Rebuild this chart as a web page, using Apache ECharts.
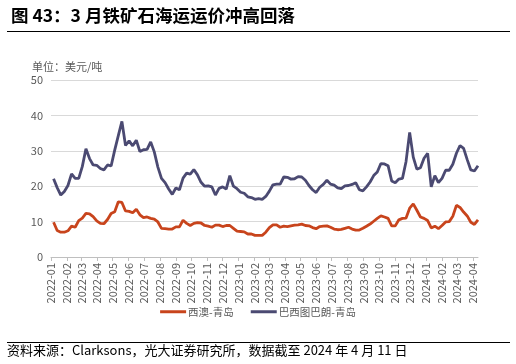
<!DOCTYPE html>
<html>
<head>
<meta charset="utf-8">
<script src="https://cdn.jsdelivr.net/npm/echarts@6/dist/echarts.min.js"></script>
<style>
html,body{margin:0;padding:0;background:#fff;}
#c{width:516px;height:364px;}
</style>
</head>
<body>
<div id="c"></div>
<script>
// weekly observations (Thursdays) from 2022-01-06 to 2024-04-11
const startDate = '2022-01-06';
const stepDays = 7;
const westAus = [
  9.8, 7.5, 7.0, 7.0, 7.4, 8.7, 8.4, 10.3, 11.0, 12.3,
  12.2, 11.4, 10.2, 9.5, 9.4, 10.6, 12.3, 12.8, 15.6, 15.4,
  13.0, 12.9, 12.5, 13.5, 11.9, 11.1, 11.3, 10.9, 10.7, 9.9,
  8.1, 8.0, 7.9, 7.9, 8.5, 8.5, 10.4, 9.5, 8.9, 9.5,
  9.7, 9.6, 8.9, 8.7, 8.4, 9.0, 9.0, 8.6, 8.9, 8.9,
  8.1, 7.3, 7.2, 7.1, 6.5, 6.5, 6.1, 6.1, 6.1, 7.0,
  8.3, 9.1, 9.1, 8.4, 8.7, 8.6, 8.8, 9.0, 9.1, 9.3,
  8.9, 8.8, 8.3, 8.0, 8.6, 8.7, 8.8, 8.4, 7.9, 7.7,
  7.8, 8.1, 8.4, 7.9, 7.6, 7.6, 8.1, 8.7, 9.3, 10.1,
  10.9, 11.6, 11.3, 10.9, 8.8, 8.8, 10.5, 10.9, 11.0, 13.8,
  15.0, 13.2, 11.3, 10.9, 10.3, 8.2, 8.7, 8.0, 8.9, 9.9,
  10.0, 11.5, 14.6, 14.0, 12.7, 11.6, 9.8, 9.2, 10.5
];
const brazil = [
  22.1, 19.6, 17.5, 18.5, 20.2, 23.5, 22.2, 22.2, 25.6, 30.6,
  27.8, 26.0, 25.9, 25.0, 24.6, 26.0, 25.7, 30.2, 34.3, 38.3,
  31.5, 32.8, 31.4, 33.0, 29.8, 30.3, 30.4, 32.5, 29.7, 25.4,
  22.2, 21.0, 19.2, 17.7, 19.5, 19.0, 22.3, 23.7, 23.4, 24.7,
  23.2, 21.1, 20.0, 20.1, 19.8, 17.5, 19.4, 19.8, 19.2, 23.0,
  20.0, 19.3, 18.3, 18.0, 17.0, 16.8, 16.3, 16.5, 16.3, 17.1,
  18.6, 20.4, 20.6, 20.6, 22.6, 22.5, 22.0, 22.1, 22.7, 22.6,
  21.7, 20.2, 19.0, 18.2, 19.7, 20.5, 21.7, 20.6, 20.3, 19.5,
  19.3, 20.1, 20.2, 20.5, 21.0, 19.0, 18.7, 19.8, 21.2, 23.0,
  24.0, 26.4, 26.3, 25.8, 21.5, 21.0, 22.0, 22.2, 27.0, 35.2,
  28.2, 24.8, 25.2, 27.9, 29.3, 19.8, 23.0, 21.0, 22.2, 24.5,
  24.5, 26.2, 29.3, 31.5, 30.7, 27.5, 24.6, 24.3, 25.8
];
const seriesNames = ['西澳-青岛', '巴西图巴朗-青岛'];
const yTicks = [0, 10, 20, 30, 40, 50];

const DAY = 86400000;
const t0 = Date.parse(startDate + 'T00:00:00Z');
const dates = westAus.map((_, i) => t0 + i * stepDays * DAY);
const pair = arr => arr.map((v, i) => [dates[i], v]);

const chart = echarts.init(document.getElementById('c'), null, {renderer: 'canvas'});
const font = '"Noto Sans CJK SC", "Noto Sans", sans-serif';
chart.setOption({
  animation: false,
  textStyle: {fontFamily: font},
  title: {
    text: '图 43：3 月铁矿石海运运价冲高回落',
    left: 6, top: 2,
    textStyle: {fontSize: 17.5, fontWeight: 'bold', color: '#000', fontFamily: font}
  },
  graphic: [
    {type: 'line', shape: {x1: 7, y1: 31.5, x2: 510, y2: 31.5}, style: {stroke: '#000', lineWidth: 1}},
    {type: 'line', shape: {x1: 7, y1: 342.5, x2: 510, y2: 342.5}, style: {stroke: '#000', lineWidth: 1}},
    {type: 'text', left: 7, top: 344, style: {text: '资料来源：Clarksons，光大证券研究所，数据截至 2024 年 4 月 11 日', font: '13px ' + font, fill: '#000'}},
    {type: 'text', left: 32, top: 61, style: {text: '单位：美元/吨', font: '11px ' + font, fill: '#595959'}}
  ],
  grid: {left: 51, right: 38, top: 80, bottom: 107},
  legend: {
    bottom: 42, left: 'center',
    icon: 'rect', itemWidth: 26, itemHeight: 3, itemGap: 17,
    textStyle: {fontSize: 10.5, color: '#595959', fontFamily: font, padding: [0, 0, 0, -3]},
    data: seriesNames
  },
  xAxis: {
    type: 'time',
    min: Date.parse('2022-01-01T00:00:00Z'),
    max: dates[dates.length - 1],
    minInterval: 28 * DAY,
    maxInterval: 31 * DAY,
    axisLine: {lineStyle: {color: '#BFBFBF'}},
    axisTick: {show: true, length: 4, lineStyle: {color: '#BFBFBF'}},
    splitLine: {show: false},
    axisLabel: {
      rotate: 90, fontSize: 11, color: '#595959', margin: 6, hideOverlap: false,
      showMaxLabel: false,
      formatter: function (v) {
        const d = new Date(v);
        const m = d.getUTCMonth() + 1;
        return d.getUTCFullYear() + '-' + (m < 10 ? '0' + m : m);
      }
    }
  },
  yAxis: {
    type: 'value', min: yTicks[0], max: yTicks[yTicks.length - 1], interval: 10,
    axisLine: {show: false}, axisTick: {show: false},
    axisLabel: {fontSize: 11, color: '#595959', margin: 8},
    splitLine: {lineStyle: {color: '#D9D9D9'}}
  },
  series: [
    {name: seriesNames[0], type: 'line', data: pair(westAus), showSymbol: false, symbol: 'none',
     lineStyle: {width: 2.8, color: '#C8441C'}, itemStyle: {color: '#C8441C'}},
    {name: seriesNames[1], type: 'line', data: pair(brazil), showSymbol: false, symbol: 'none',
     lineStyle: {width: 2.8, color: '#4B4A72'}, itemStyle: {color: '#4B4A72'}}
  ]
});
</script>
</body>
</html>
